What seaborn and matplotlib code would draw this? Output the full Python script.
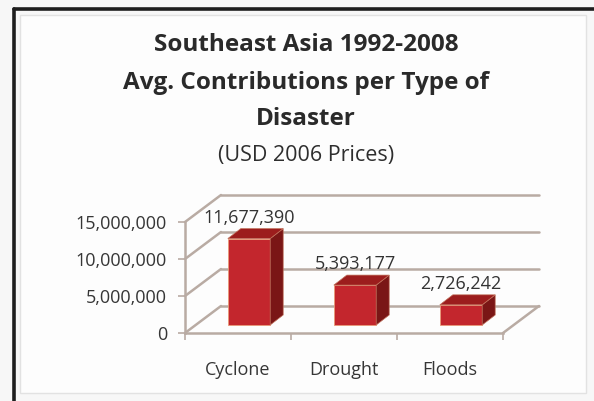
import numpy as np
import pandas as pd
import matplotlib
matplotlib.use("Agg")
import matplotlib.pyplot as plt
from matplotlib.patches import Polygon, Rectangle
from matplotlib.lines import Line2D
import seaborn as sns

disasters = ["Cyclone", "Drought", "Floods"]
contributions = [11677390, 5393177, 2726242]
y_ticks = [0, 5000000, 10000000, 15000000]

df = pd.DataFrame({"Disaster": disasters, "Contribution": contributions})

sns.set_theme(style="white")
plt.rcParams["font.family"] = ["Open Sans", "DejaVu Sans"]

FIG_W, FIG_H = 594, 401
fig = plt.figure(figsize=(FIG_W / 100, FIG_H / 100), dpi=100, facecolor="#f7f7f7")

# chart area frame (dark outer, light inner)
fig.add_artist(Rectangle((20 / FIG_W, 8 / FIG_H), 566 / FIG_W, 378 / FIG_H, transform=fig.transFigure,
                         facecolor="#fdfdfd", edgecolor="#e2e2e2", lw=1, zorder=0))
fig.add_artist(Line2D([13.5 / FIG_W, 13.5 / FIG_W], [0, 1 - 8.5 / FIG_H], transform=fig.transFigure,
                      color="#1e1e1e", lw=2.6))
fig.add_artist(Line2D([13.5 / FIG_W, 1], [1 - 8.5 / FIG_H, 1 - 8.5 / FIG_H], transform=fig.transFigure,
                      color="#1e1e1e", lw=2.6))

# front plane of the pseudo 3d box
ax = fig.add_axes([185 / FIG_W, (FIG_H - 333) / FIG_H, 318 / FIG_W, 111 / FIG_H])
ax.set_facecolor("none")

sns.barplot(data=df, x="Disaster", y="Contribution", color="#c3262d", saturation=1,
            width=0.4, edgecolor="#e99a78", linewidth=0.6, ax=ax, zorder=3)
ax.set_xlim(-0.5, len(disasters) - 0.5)
ax.set_ylim(0, y_ticks[-1])

# pixel -> data conversion for the depth effect
px_x = 318 / len(disasters)
px_y = 111 / y_ticks[-1]
dx, dy = 36 / px_x, 27 / px_y        # box depth
sx, sy = 11 / px_x, 8 / px_y         # where the bars sit inside the box
bdx, bdy = 13 / px_x, 10 / px_y      # bar depth

grid_c = "#b9aba3"
x0, x1 = -0.5, len(disasters) - 0.5
for v in y_ticks:
    ax.plot([x0 + dx, x1 + dx], [v + dy, v + dy], color=grid_c, lw=1.8, clip_on=False, zorder=1)
    ax.plot([x0, x0 + dx], [v, v + dy], color=grid_c, lw=1.8, clip_on=False, zorder=1)
ax.plot([x1, x1 + dx], [0, dy], color=grid_c, lw=1.8, clip_on=False, zorder=1)

for p in ax.patches:
    x, w, h = p.get_x(), p.get_width(), p.get_height()
    p.set_x(x + sx)
    p.set_y(sy)
    p.set_clip_on(False)
    xl, xr, yb, yt = x + sx, x + sx + w, sy, sy + h
    side = Polygon([(xr, yb), (xr + bdx, yb + bdy), (xr + bdx, yt + bdy), (xr, yt)],
                   closed=True, facecolor="#7a1616", edgecolor="#c0705a", lw=0.5, clip_on=False, zorder=3)
    top = Polygon([(xl, yt), (xr, yt), (xr + bdx, yt + bdy), (xl + bdx, yt + bdy)],
                  closed=True, facecolor="#9c1d1d", edgecolor="#c0705a", lw=0.5, clip_on=False, zorder=3)
    ax.add_patch(side)
    ax.add_patch(top)
    ax.annotate(f"{int(round(h)):,}", xy=(xl + w / 2, yt), xytext=(0, 21), textcoords="offset pixels",
                ha="center", va="center", fontsize=13, color="#333333", annotation_clip=False, zorder=4)

for s in ["top", "right"]:
    ax.spines[s].set_visible(False)
for s in ["left", "bottom"]:
    ax.spines[s].set_color(grid_c)
    ax.spines[s].set_linewidth(1.8)

ax.set_yticks(y_ticks)
ax.set_yticklabels([f"{v:,}" for v in y_ticks])
ax.set_xticks(range(len(disasters)))
ax.set_xticks(np.arange(len(disasters) + 1) - 0.5, minor=True)
ax.tick_params(axis="y", length=5, width=1.2, color=grid_c, pad=8, labelsize=13, labelcolor="#363636", left=True)
ax.tick_params(axis="x", which="major", length=0, pad=20, labelsize=13, labelcolor="#363636")
ax.tick_params(axis="x", which="minor", length=5, width=1.2, color=grid_c, bottom=True, direction="out")
ax.set_xlabel("")
ax.set_ylabel("")

cx = 306 / FIG_W
title_lines = ["Southeast Asia 1992-2008", "Avg. Contributions per Type of", "Disaster"]
for line, ypx in zip(title_lines, [45, 83, 119]):
    fig.text(cx, 1 - ypx / FIG_H, line, ha="center", va="center", fontsize=17.5, fontweight="bold", color="#2a2a2a")
fig.text(cx, 1 - 156 / FIG_H, "(USD 2006 Prices)", ha="center", va="center", fontsize=15.5, color="#2e2e2e")

fig.savefig("out.png", dpi=100, facecolor=fig.get_facecolor())
